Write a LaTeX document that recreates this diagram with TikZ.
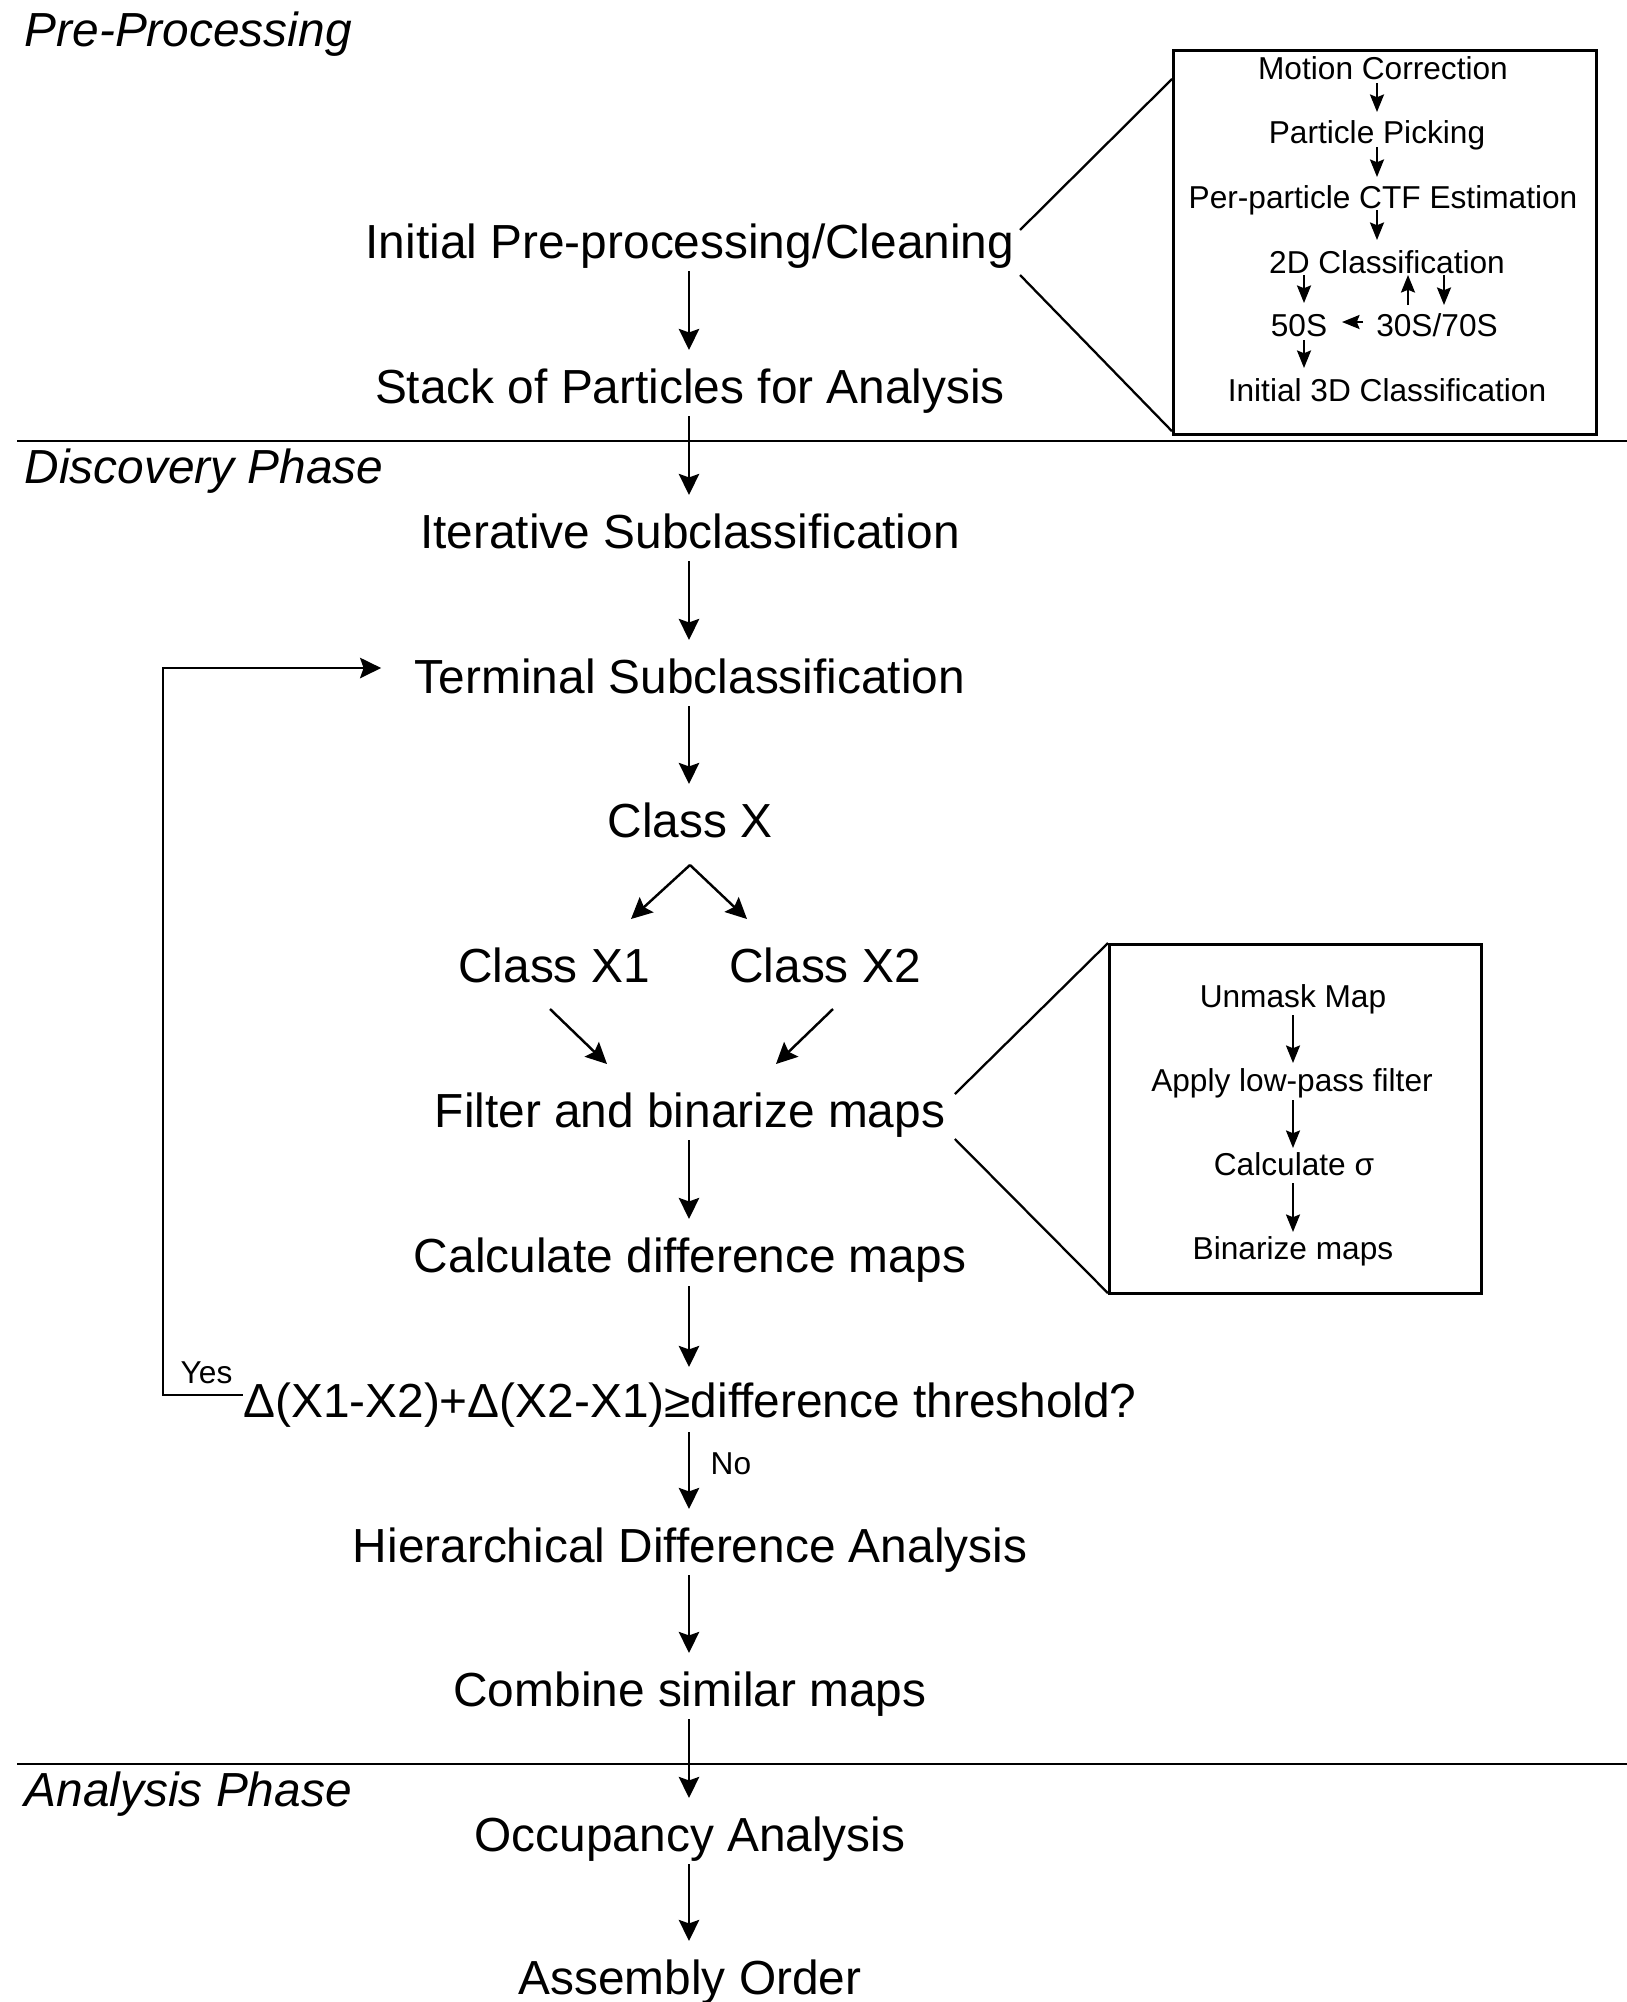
\documentclass[tikz,border=0pt]{standalone}
\usepackage{fontspec}
\setmainfont{Liberation Sans}
\usetikzlibrary{arrows.meta,calc}
\begin{document}
\begin{tikzpicture}[x=0.01cm,y=-0.01cm]
\tikzset{
 main/.style={font=\fontsize{13.6}{16}\selectfont, inner sep=0pt, text height=9.75pt, text depth=0pt, anchor=center},
 sec/.style={font=\fontsize{13.6}{16}\selectfont\itshape, inner sep=0pt, text height=9.75pt, text depth=0pt, anchor=west},
 small/.style={font=\fontsize{9}{11}\selectfont, inner sep=0pt, text height=6.45pt, text depth=0pt, anchor=center},
 arr/.style={line width=0.7pt, -{Stealth[length=6pt,width=5.8pt,inset=1pt]}},
 sarr/.style={line width=0.55pt, -{Stealth[length=5pt,width=4pt,inset=0.8pt]}},
 ln/.style={line width=0.65pt},
 rule/.style={line width=0.8pt},
 boxstyle/.style={draw, line width=0.85pt, inner sep=0pt, anchor=north west},
}
\useasboundingbox (0,0) rectangle (1627,2002);
\fill[white] (0,0) rectangle (1627,2002);

% section labels and rules
\node[sec] (pre) at (24,29) {Pre-Processing};
\node[sec] (disc) at (24,466) {Discovery Phase};
\node[sec] (anal) at (24,1789) {Analysis Phase};
\coordinate (r1a) at (17,441); \coordinate (r1b) at (1627,441);
\coordinate (r2a) at (17,1764); \coordinate (r2b) at (1627,1764);
\draw[rule] (r1a) -- (r1b);
\draw[rule] (r2a) -- (r2b);

% main column
\node[main] (init) at (690,241) {Initial Pre-processing/Cleaning};
\node[main] (stack) at (690,386) {Stack of Particles for Analysis};
\node[main] (iter) at (690,531) {Iterative Subclassification};
\node[main] (term) at (690,676) {Terminal Subclassification};
\node[main] (cx) at (690,820) {Class X};
\node[main] (cx1) at (554,965) {Class X1};
\node[main] (cx2) at (825,965) {Class X2};
\node[main] (filt) at (690,1110) {Filter and binarize maps};
\node[main] (calc) at (690,1255) {Calculate difference maps};
\node[main] (delta) at (690,1400) {Δ(X1-X2)+Δ(X2-X1)≥difference threshold?};
\node[main] (hier) at (690,1545) {Hierarchical Difference Analysis};
\node[main] (comb) at (690,1689) {Combine similar maps};
\node[main] (occ) at (690,1834) {Occupancy Analysis};
\node[main] (asm) at (690,1977) {Assembly Order};

\draw[arr] ($(init)+(-1,30)$) -- ($(stack)+(-1,-36)$);
\draw[arr] ($(stack)+(-1,30)$) -- ($(iter)+(-1,-36)$);
\draw[arr] ($(iter)+(-1,30)$) -- ($(term)+(-1,-36)$);
\draw[arr] ($(term)+(-1,30)$) -- ($(cx)+(-1,-36)$);
\coordinate (apex) at (690,865);
\draw[arr] (apex) -- ($(cx1)+(77,-46)$);
\draw[arr] (apex) -- ($(cx2)+(-78,-46)$);
\draw[arr] ($(cx1)+(-4,44)$) -- ($(filt)+(-83,-46)$);
\draw[arr] ($(cx2)+(8,44)$) -- ($(filt)+(86,-46)$);
\draw[arr] ($(filt)+(-1,30)$) -- ($(calc)+(-1,-36)$);
\draw[arr] ($(calc)+(-1,31)$) -- ($(delta)+(-1,-33)$);
\draw[arr] ($(delta)+(-1,32)$) -- ($(hier)+(-1,-36)$);
\draw[arr] ($(hier)+(-1,30)$) -- ($(comb)+(-1,-36)$);
\draw[arr] ($(comb)+(-1,30)$) -- ($(occ)+(-1,-36)$);
\draw[arr] ($(occ)+(-1,30)$) -- ($(asm)+(-1,-36)$);

% yes loop
\draw[arr] ($(delta.west)+(0,-5)$) -| (163,668) -- ($(term.west)+(-33,-8)$);
\node[small, anchor=west] (yes) at (180,1372) {Yes};
\node[small, anchor=west] (no) at (710,1463) {No};

% inset 1
\node[boxstyle, minimum width=4.23cm, minimum height=3.84cm] (box1) at (1172,49) {};
\draw[ln] ($(init.east)+(5,-11)$) -- ($(box1.north west)+(0,30)$);
\draw[ln] ($(init.east)+(5,34)$) -- ($(box1.south west)+(0,-5)$);
\node[small] (mc) at (1383,68) {Motion Correction};
\node[small] (pp) at (1377,132) {Particle Picking};
\node[small] (ctf) at (1383,197) {Per-particle CTF Estimation};
\node[small] (c2d) at (1387,262) {2D Classification};
\node[small] (s50) at (1299,325) {50S};
\node[small] (s30) at (1437,325) {30S/70S};
\node[small] (c3d) at (1387,390) {Initial 3D Classification};
\draw[sarr] ($(mc)+(-6,15)$) -- ($(pp)+(0,-20)$);
\draw[sarr] ($(pp)+(0,15)$) -- ($(ctf)+(-6,-20)$);
\draw[sarr] ($(ctf)+(-6,13)$) -- ($(c2d)+(-10,-22)$);
\draw[sarr] ($(c2d)+(-83,13)$) -- ($(s50)+(5,-22)$);
\draw[sarr] ($(s30)+(-29,-20)$) -- ($(c2d)+(21,13)$);
\draw[sarr] ($(c2d)+(57,13)$) -- ($(s30)+(7,-20)$);
\draw[sarr] ($(s30)+(-74,-3)$) -- ($(s50)+(43,-3)$);
\draw[sarr] ($(s50)+(5,15)$) -- ($(c3d)+(-83,-22)$);

% inset 2
\node[boxstyle, minimum width=3.72cm, minimum height=3.49cm] (box2) at (1108,943) {};
\draw[ln] ($(filt.east)+(9,-16)$) -- (box2.north west);
\draw[ln] ($(filt.east)+(9,29)$) -- ($(box2.south west)+(0,-2)$);
\node[small] (um) at (1293,996) {Unmask Map};
\node[small] (lp) at (1292,1080) {Apply low-pass filter};
\node[small] (cs) at (1294,1164) {Calculate σ};
\node[small] (bm) at (1293,1248) {Binarize maps};
\draw[sarr] ($(um)+(0,19)$) -- ($(lp)+(1,-17)$);
\draw[sarr] ($(lp)+(1,20)$) -- ($(cs)+(-1,-16)$);
\draw[sarr] ($(cs)+(-1,19)$) -- ($(bm)+(0,-16)$);
\end{tikzpicture}
\end{document}
